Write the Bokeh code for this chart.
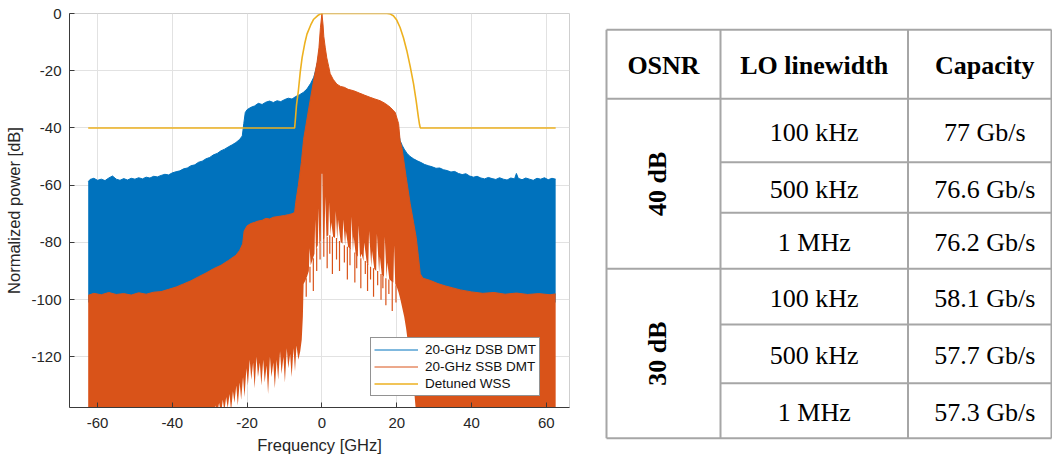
import math
from bokeh.plotting import figure
from bokeh.layouts import row
from bokeh.models import Range1d, Legend, LegendItem, FixedTicker
from bokeh.embed import file_html
from bokeh.resources import INLINE
from bokeh.core.properties import value

# ---------------- spectrum data ----------------
x_ticks = [-60, -40, -20, 0, 20, 40, 60]
y_ticks = [-120, -100, -80, -60, -40, -20, 0]

# 20-GHz DSB DMT: upper envelope (left to right)
dsb_top_f = [-62.5, -62.0, -61.0, -60.0, -59.0, -58.0, -57.0, -56.0, -55.0, -54.0, -53.0, -52.0,
             -51.0, -50.0, -49.0, -48.0, -47.0, -46.0, -45.0, -44.0, -43.0, -42.0, -41.0, -40.0,
             -39.0, -38.0, -37.0, -36.0, -35.0, -34.0, -33.0, -32.0, -31.0, -30.0, -29.0, -28.0,
             -27.0, -26.0, -25.0, -24.0, -23.0, -22.0, -21.3, -20.9, -20.5, -20.0, -19.0, -18.0,
             -17.0, -16.0, -15.0, -14.0, -13.0, -12.0, -11.0, -10.0, -9.0, -8.0, -7.0, -6.0,
             -5.0, -4.0, -3.0, -2.2, -1.6, -1.2, -0.8, -0.4, 0.5, 2.0, 10.0, 20.0, 20.9, 21.5,
             22.0, 22.7, 23.5, 24.5, 25.5, 26.5, 27.5, 28.5, 29.5, 30.5, 31.5, 32.5, 33.5, 34.5,
             35.5, 36.5, 37.5, 38.5, 39.5, 40.5, 41.5, 42.5, 43.5, 44.5, 45.5, 46.5, 47.5, 48.5,
             49.5, 50.5, 51.5, 52.0, 52.5, 53.5, 54.5, 55.5, 56.5, 57.5, 58.5, 59.5, 60.5, 61.5, 62.5]
dsb_top_db = [-58.8, -58.0, -57.6, -58.3, -57.9, -58.4, -57.5, -56.8, -57.9, -58.3, -57.7, -58.2,
              -57.6, -57.9, -57.4, -57.8, -57.2, -57.5, -56.9, -57.1, -56.6, -56.2, -56.4, -55.7,
              -55.3, -55.0, -54.3, -54.0, -53.2, -52.9, -52.0, -51.6, -50.8, -50.3, -49.4, -48.9,
              -48.0, -47.4, -46.6, -45.9, -45.1, -44.0, -42.8, -38.5, -34.6, -33.6, -32.8, -32.3,
              -31.4, -31.8, -31.0, -30.6, -31.1, -30.5, -30.8, -30.1, -29.6, -29.9, -29.0, -28.4,
              -27.6, -26.4, -24.4, -22.3, -19.5, -17.0, -14.0, -10.0, -14.0, -25.0, -34.0, -38.0,
              -44.4, -46.2, -47.4, -48.8, -49.9, -50.8, -51.5, -52.1, -52.8, -53.2, -53.6, -54.1,
              -54.0, -54.6, -54.9, -55.4, -55.2, -55.9, -56.3, -56.0, -56.8, -57.2, -56.9, -57.5,
              -57.8, -57.3, -57.7, -58.0, -57.4, -57.9, -58.2, -57.5, -57.8, -55.9, -57.6, -58.1,
              -57.5, -57.9, -58.3, -57.6, -57.9, -57.4, -58.1, -57.6, -57.9]
# DSB lower envelope (right to left, hidden under the SSB trace)
dsb_low_f = [62.5, 24.5, 23.0, 21.0, 20.0, -4.5, -5.5, -62.5]
dsb_low_db = [-101, -101, -85, -60, -50, -50, -101, -101]

# 20-GHz SSB DMT: upper envelope (left to right)
ssb_top_f = [-62.5, -61.0, -59.0, -57.0, -55.0, -53.0, -51.0, -49.0, -47.0, -45.0, -43.0, -41.0,
             -39.0, -37.0, -35.0, -33.0, -31.0, -29.0, -27.0, -25.0, -23.0, -22.0, -21.2, -20.8,
             -20.0, -19.0, -18.0, -17.0, -16.0, -15.0, -14.0, -13.0, -12.0, -11.0, -10.0, -9.0,
             -8.0, -7.3, -7.0, -6.3, -5.5, -4.9, -3.5, -2.3, -1.3, -0.8, -0.4, 0.0, 0.3, 0.5,
             0.9, 1.3, 1.8, 2.2, 3.0, 4.0, 5.0, 6.0, 7.0, 8.5, 10.0, 11.5, 12.9, 14.0, 15.6,
             17.0, 18.3, 19.6, 20.5, 20.9, 21.4, 22.5, 23.6, 24.5, 25.2, 25.8, 26.3, 27.0, 29.0,
             31.0, 33.0, 35.0, 37.0, 40.0, 43.0, 46.0, 49.0, 52.0, 55.0, 58.0, 61.0, 62.5]
ssb_top_db = [-98.5, -97.8, -98.3, -97.5, -98.2, -97.9, -98.4, -97.6, -98.1, -97.4, -97.2, -96.4,
              -95.6, -94.5, -93.4, -92.0, -90.7, -89.2, -88.0, -86.3, -84.5, -82.8, -80.5, -76.0,
              -74.2, -73.4, -73.0, -72.5, -72.3, -71.6, -71.8, -71.2, -71.0, -70.8, -70.6, -70.3,
              -70.0, -69.5, -66.0, -60.0, -52.0, -44.0, -33.0, -24.0, -17.0, -12.0, -5.0, 0.0,
              -4.0, -8.0, -12.0, -15.5, -18.5, -21.0, -23.0, -24.7, -25.5, -25.8, -26.5, -27.0,
              -27.8, -28.6, -29.3, -29.8, -30.5, -31.5, -32.8, -34.6, -38.5, -44.4, -47.0, -57.0,
              -66.5, -73.0, -78.2, -85.0, -91.0, -92.5, -93.3, -94.4, -95.2, -95.9, -96.6, -97.3,
              -97.8, -97.5, -98.1, -97.7, -98.2, -97.9, -98.3, -98.0]
# SSB lower boundary (right to left): floor, central gap with upward notches, low-frequency comb
ssb_low_f = [62.5, 25.2, 25.0, 24.6, 24.2, 23.8, 23.4, 23.0, 22.5, 22.0, 21.5, 21.0, 20.5,
             20.0, 19.6, 19.3, 19.1, 18.5, 18.0, 17.5, 17.3, 16.8, 16.6, 16.0, 15.5, 15.3, 14.7,
             14.5, 14.0, 13.4, 13.2, 12.6, 12.4, 12.0, 11.3, 11.1, 10.6, 10.2, 9.8, 9.6, 9.0,
             8.5, 8.3, 7.9, 7.7, 7.0, 6.4, 6.2, 5.7, 5.5, 5.0, 4.3, 4.1, 3.7, 3.5, 3.0, 2.5,
             2.3, 1.9, 1.7, 1.2, 0.9, 0.7, 0.3, 0.1, -0.1, -0.3, -0.7, -0.9, -1.1, -1.6, -1.8,
             -2.0, -2.5, -3.0, -3.3, -3.5, -4.0, -4.5, -4.9, -5.1, -5.4, -5.8, -6.3,
             -6.8, -7.2, -7.6, -8.1, -8.5, -9.0, -9.4, -9.9, -10.3, -10.8, -11.2, -11.7, -12.1,
             -12.6, -13.0, -13.5, -13.9, -14.4, -14.8, -15.3, -15.7, -16.2, -16.6, -17.1, -17.5,
             -18.0, -18.4, -18.9, -19.3, -19.8, -20.2, -20.7, -21.1, -21.6, -22.0, -22.5, -22.9,
             -23.4, -23.8, -24.3, -24.7, -25.2, -25.6, -26.1, -26.5, -27.0, -27.5, -28.0, -28.5,
             -29.0, -29.6, -30.2, -62.5]
ssb_low_db = [-140, -140, -137, -131, -127, -122, -118, -115, -110, -106, -103, -100, -97.5,
              -95.5, -94.5, -81, -94, -93.5, -92.8, -87, -92.5, -78, -92, -91.2, -85, -90.5, -77,
              -90, -89.2, -83, -88.5, -76, -88, -87.2, -80, -86.5, -84, -85.5, -74, -85, -83.8,
              -78, -83, -71, -82.5, -81.5, -76, -81, -72, -80.5, -79.8, -72, -79, -69, -78.5, -78, -73,
              -77.5, -66, -77.5, -78, -64, -78.5, -79, -56, -56, -79.5, -80.5, -68, -81, -82.5, -72,
              -84, -86, -88, -82, -90, -92, -93.5, -94.5, -106, -114, -118, -121,
              -116, -125, -117, -127, -119, -124, -117, -129, -120, -126, -118, -128, -121,
              -131, -122, -127, -120, -133, -123, -129, -121, -130, -122, -127, -120,
              -131, -122, -128, -121, -130, -124, -134, -127, -135, -129, -137, -130,
              -136, -132, -139, -133, -138, -134, -139, -135, -140, -136, -140, -137,
              -140, -138, -140, -140]
# SSB thin spikes hanging into the central gap
spike_f = [-4.2, -3.2, -2.3, -1.4, -0.5, 0.5, 1.4, 2.1, 2.8, 3.9, 4.7, 6.0, 6.8, 7.5, 8.8, 9.3,
           10.4, 11.6, 12.2, 13.0, 13.8, 14.9, 15.8, 16.3, 17.1, 17.9, 18.8, 19.8]
spike_base_db = [-92.5, -88.5, -85.5, -82, -80, -78.5, -78, -77.5, -78, -78.5, -79.5, -81, -81.5,
                 -82, -83.5, -84, -85.5, -86.5, -87.5, -88.5, -89, -90, -91, -91.5, -92.5, -93,
                 -93.5, -95]
spike_tip_db = [-99, -94, -97, -90, -86, -85, -89, -84, -91, -86, -90, -87, -93, -88, -94, -89,
                -96, -91, -97, -93, -99, -95, -100, -96, -102, -98, -104, -101]

# Detuned WSS
wss_f = [-62.5, -7.3, -7.1, -6.8, -6.3, -5.8, -5.3, -4.6, -4.0, -3.0, -2.2, -1.2, -0.5, 0.5,
         17.4, 18.3, 19.1, 20.0, 20.9, 21.8, 22.7, 23.6, 24.5, 25.2, 25.8, 26.1, 26.3, 62.5]
wss_db = [-40, -40, -37, -32, -27, -20.5, -15.4, -10.5, -7.2, -4.0, -2.0, -0.8, -0.2, 0.0,
          0.0, -0.2, -0.8, -2.3, -4.9, -8.5, -13.0, -18.5, -24.6, -30.5, -36.3, -38.8, -40, -40]

series_labels = ["20-GHz DSB DMT", "20-GHz SSB DMT", "Detuned WSS"]

# ---------------- table data ----------------
table_headers = ["OSNR", "LO linewidth", "Capacity"]
osnr_groups = ["40 dB", "30 dB"]
lo_linewidths = ["100 kHz", "500 kHz", "1 MHz", "100 kHz", "500 kHz", "1 MHz"]
capacities = ["77 Gb/s", "76.6 Gb/s", "76.2 Gb/s", "58.1 Gb/s", "57.7 Gb/s", "57.3 Gb/s"]

BLUE = "#0072BD"
ORANGE = "#D95319"
YELLOW = "#EDB120"
AX = "#262626"
SANS = "Liberation Sans"
SERIF = "Liberation Serif"

W_LEFT, W_TABLE, H = 598, 454, 458

# ---------------- spectrum figure ----------------
p = figure(width=W_LEFT, height=H, x_range=Range1d(-67.5, 66.2), y_range=Range1d(-137.7, 0),
           output_backend="svg", toolbar_location=None, frame_align=False,
           min_border_left=69, min_border_right=29, min_border_top=13, min_border_bottom=51)

p.patch(dsb_top_f + dsb_low_f, dsb_top_db + dsb_low_db, fill_color=BLUE, line_color=None)
dsb_line = p.line(dsb_top_f, dsb_top_db, line_color=BLUE, line_width=1)
p.patch(ssb_top_f + ssb_low_f, ssb_top_db + ssb_low_db, fill_color=ORANGE, line_color=None)
ssb_line = p.line(ssb_top_f, ssb_top_db, line_color=ORANGE, line_width=1)
p.segment(x0=spike_f, y0=spike_base_db, x1=spike_f, y1=spike_tip_db, line_color=ORANGE,
          line_width=1.2)
wss_line = p.line(wss_f, wss_db, line_color=YELLOW, line_width=1.6)

p.xaxis.ticker = FixedTicker(ticks=x_ticks)
p.yaxis.ticker = FixedTicker(ticks=y_ticks)
p.xgrid.ticker = FixedTicker(ticks=x_ticks)
p.ygrid.ticker = FixedTicker(ticks=y_ticks)
p.xaxis.major_label_overrides = {t: str(t) for t in x_ticks}
p.yaxis.major_label_overrides = {t: str(t) for t in y_ticks}
p.grid.grid_line_color = "#e2e2e2"
p.grid.grid_line_width = 1
p.outline_line_color = "#cfcfcf"

p.xaxis.axis_label = "Frequency [GHz]"
p.yaxis.axis_label = "Normalized power [dB]"
for ax in (p.xaxis, p.yaxis):
    ax.axis_label_text_font = SANS
    ax.axis_label_text_font_size = "16.5px"
    ax.axis_label_text_font_style = "normal"
    ax.axis_label_text_color = AX
    ax.major_label_text_font = SANS
    ax.major_label_text_font_size = "15px"
    ax.major_label_text_color = AX
    ax.axis_line_color = "#3a3a3a"
    ax.major_tick_line_color = "#3a3a3a"
    ax.major_tick_in = 5
    ax.major_tick_out = 0
    ax.minor_tick_line_color = None
p.xaxis.major_label_standoff = 10
p.xaxis.axis_label_standoff = 5
p.yaxis.major_label_standoff = 8
p.yaxis.axis_label_standoff = 5

legend = Legend(items=[LegendItem(label=series_labels[0], renderers=[dsb_line]),
                       LegendItem(label=series_labels[1], renderers=[ssb_line]),
                       LegendItem(label=series_labels[2], renderers=[wss_line])],
                location=(301, 11), margin=0, padding=3, spacing=0,
                glyph_width=44, glyph_height=17, label_height=17, label_standoff=7,
                label_text_font=SANS, label_text_font_size="13.5px", label_text_color="#111111",
                border_line_color=AX, border_line_width=1, background_fill_color="white",
                background_fill_alpha=1.0)
p.add_layout(legend)

# ---------------- table figure ----------------
col_edges = [606, 720, 907.5, 1051]
row_edges = [29.3, 98.3, 161.7, 212.3, 268.3, 324.0, 382.7, 437.7]
group_rows = 3
TL = "#a6a6a6"

t = figure(width=W_TABLE, height=H, x_range=Range1d(W_LEFT, W_LEFT + W_TABLE),
           y_range=Range1d(H, 0), output_backend="svg", toolbar_location=None, min_border=0,
           x_axis_location=None, y_axis_location=None, frame_align=False)
t.grid.visible = False
t.outline_line_color = None

# horizontal rules: full width at top, under header and between groups; partial inside groups
hx0, hy, hx1 = [], [], []
for i, y in enumerate(row_edges):
    full = (i <= 1) or ((i - 1) % group_rows == 0)
    hx0.append(col_edges[0] if full else col_edges[1])
    hx1.append(col_edges[-1])
    hy.append(y)
t.segment(x0=hx0, y0=hy, x1=hx1, y1=hy, line_color=TL, line_width=2)
t.segment(x0=col_edges, y0=[row_edges[0]] * len(col_edges), x1=col_edges,
          y1=[row_edges[-1]] * len(col_edges), line_color=TL, line_width=2)

col_mid = [(col_edges[i] + col_edges[i + 1]) / 2 for i in range(3)]
col_mid[2] += 5
row_mid = [(row_edges[i] + row_edges[i + 1]) / 2 + 1.5 for i in range(len(row_edges) - 1)]

t.text(x=col_mid, y=[row_mid[0]] * 3, text=table_headers, text_font=value(SERIF),
       text_font_size="26px", text_font_style="bold", text_align="center",
       text_baseline="middle", text_color="black")
t.text(x=[col_mid[1]] * len(lo_linewidths), y=row_mid[1:], text=lo_linewidths,
       text_font=value(SERIF), text_font_size="26px", text_align="center",
       text_baseline="middle", text_color="black")
t.text(x=[col_mid[2]] * len(capacities), y=row_mid[1:], text=capacities,
       text_font=value(SERIF), text_font_size="26px", text_align="center",
       text_baseline="middle", text_color="black")
grp_y = [(row_edges[1 + g * group_rows] + row_edges[1 + (g + 1) * group_rows]) / 2
         for g in range(len(osnr_groups))]
t.text(x=[col_mid[0] - 6] * len(osnr_groups), y=grp_y, text=osnr_groups, angle=math.pi / 2,
       text_font=value(SERIF), text_font_size="26px", text_font_style="bold",
       text_align="center", text_baseline="middle", text_color="black")

layout = row(p, t)
open("out.html", "w").write(file_html(layout, INLINE))
